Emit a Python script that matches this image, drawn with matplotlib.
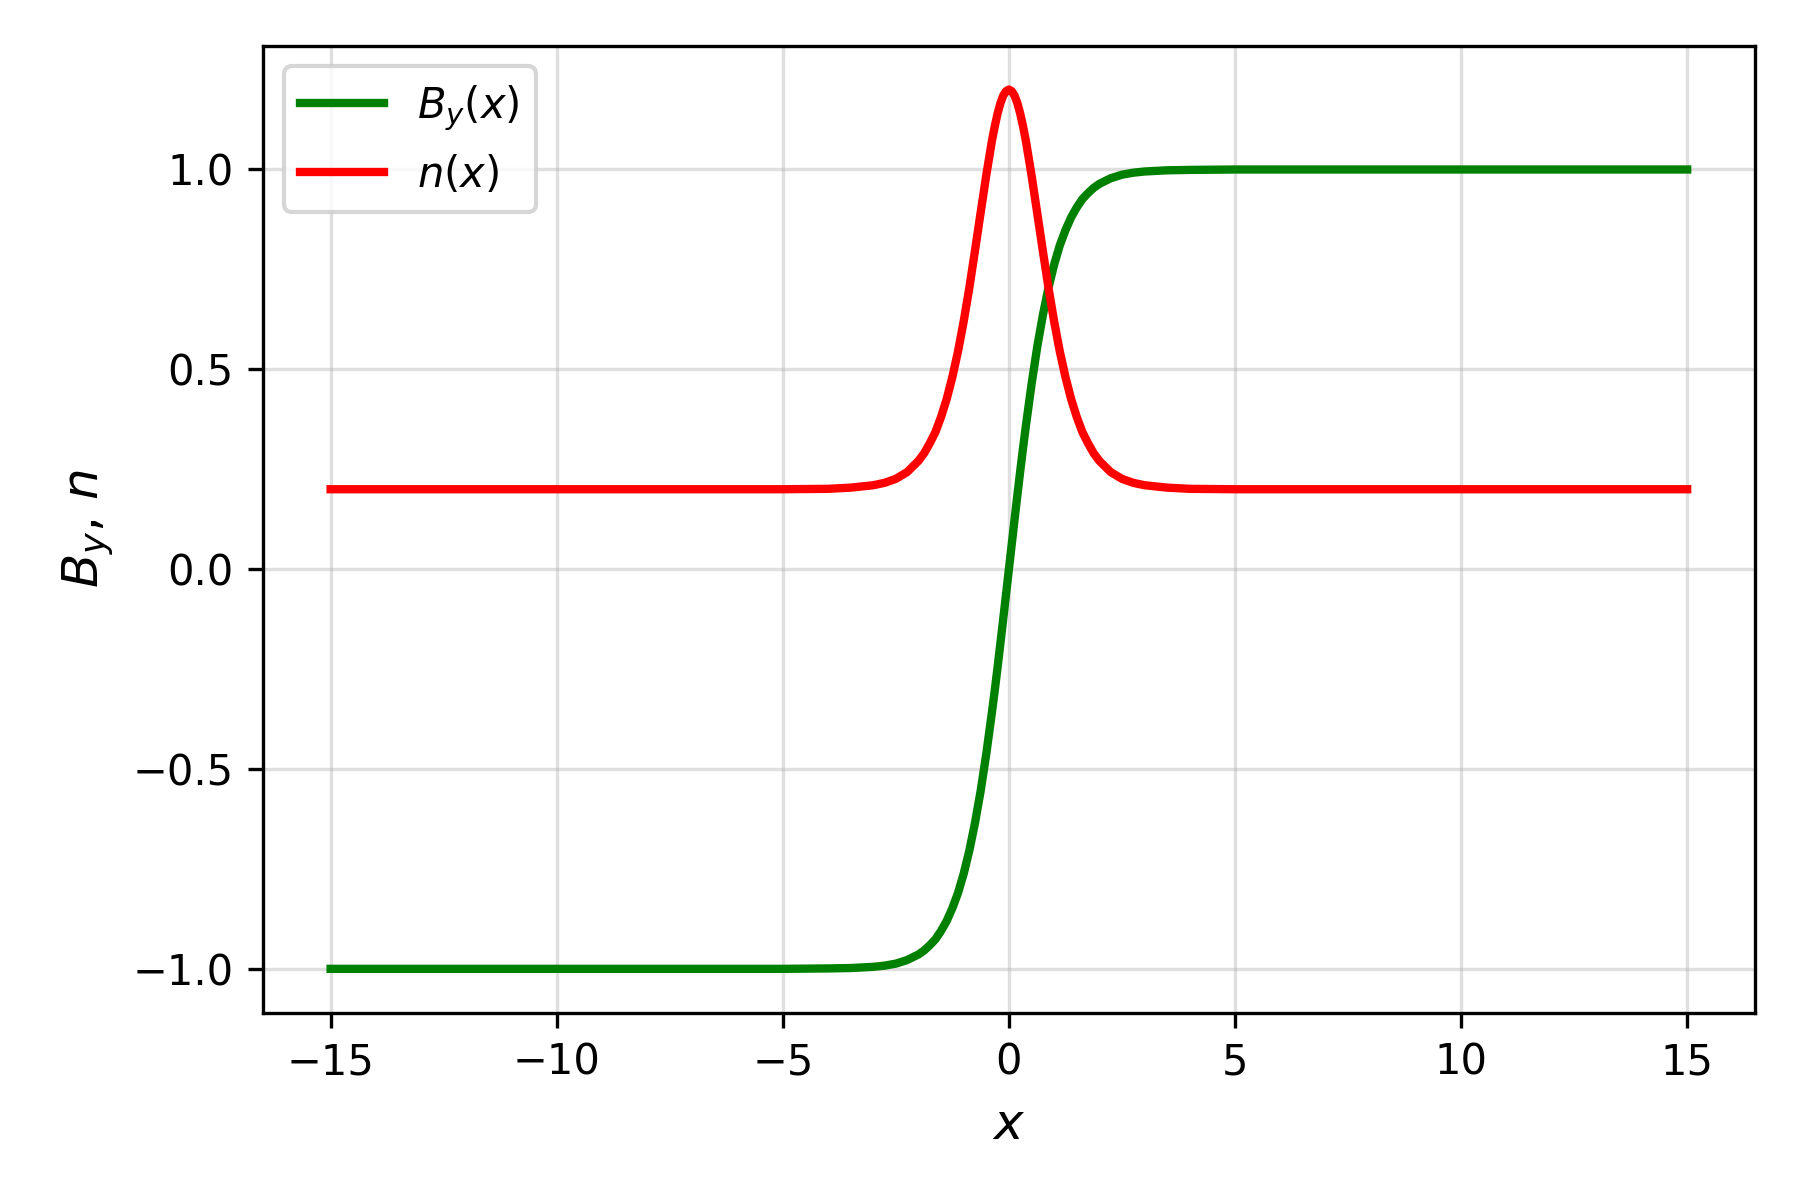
import numpy as np
import matplotlib.pyplot as plt

# points (positive half, mirrored below)
x_half = [0.0, 0.0625, 0.125, 0.1875, 0.25, 0.3125, 0.375, 0.5, 0.625, 0.75,
          0.875, 1.0, 1.125, 1.25, 1.375, 1.5, 1.625, 1.75, 1.875, 2.0, 2.25,
          2.5, 2.75, 3.0, 3.5, 4.0, 5.0, 15.0]
by_half = [0.0, 0.062, 0.124, 0.185, 0.245, 0.303, 0.358, 0.462, 0.555, 0.635,
           0.704, 0.762, 0.810, 0.848, 0.880, 0.905, 0.926, 0.941, 0.954,
           0.964, 0.978, 0.987, 0.992, 0.995, 0.998, 0.999, 1.0, 1.0]
n_half = [1.2, 1.196, 1.185, 1.166, 1.140, 1.108, 1.072, 0.986, 0.892, 0.797,
          0.704, 0.620, 0.545, 0.481, 0.426, 0.381, 0.343, 0.315, 0.290,
          0.271, 0.243, 0.226, 0.216, 0.210, 0.204, 0.201, 0.2, 0.2]

x = [-v for v in x_half[:0:-1]] + x_half
by = [-v for v in by_half[:0:-1]] + by_half
n = n_half[:0:-1] + n_half

fig, ax = plt.subplots(figsize=(6, 4), dpi=300)
fig.subplots_adjust(left=0.146, right=0.975, top=0.962, bottom=0.156)

ax.plot(x, by, color='green', lw=2, solid_joinstyle='round', label=r'$B_y(x)$')
ax.plot(x, n, color='red', lw=2, solid_joinstyle='round', label=r'$n(x)$')

ax.set_xlabel(r'$x$', fontsize=12)
ax.set_ylabel(r'$B_y$, $n$', fontsize=12)
ax.grid(True, alpha=0.4)
ax.legend(loc='upper left', fontsize=10)

plt.savefig('out.png', dpi=300)
